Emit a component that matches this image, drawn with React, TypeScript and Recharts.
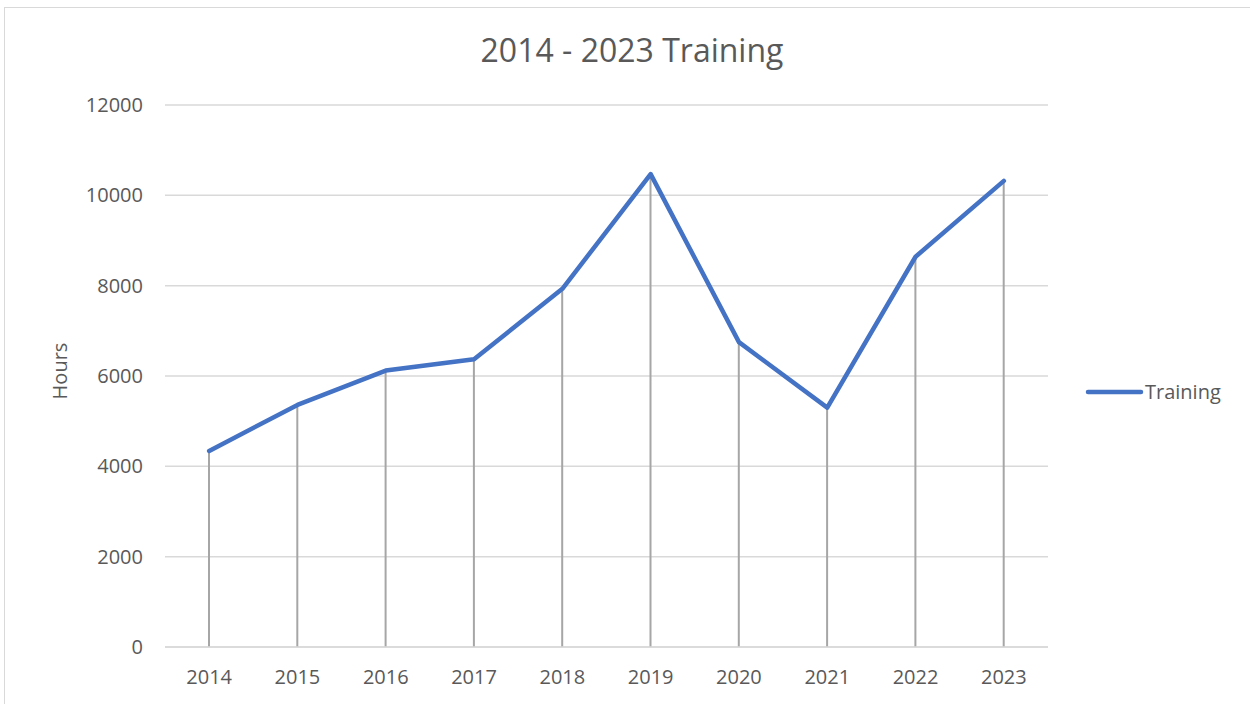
import React from 'react';
import { ComposedChart, Line, Bar, XAxis, YAxis, CartesianGrid, Legend } from 'recharts';

const years = ['2014', '2015', '2016', '2017', '2018', '2019', '2020', '2021', '2022', '2023'];
const trainingHours = [4340, 5360, 6120, 6370, 7930, 10470, 6750, 5300, 8640, 10320];
const yTicks = [0, 2000, 4000, 6000, 8000, 10000, 12000];
const seriesName = 'Training';
const chartTitle = '2014 - 2023 Training';
const yAxisTitle = 'Hours';

const data = years.map((y, i) => ({ year: y, hours: trainingHours[i] }));

const FONT = '"Open Sans", sans-serif';
const TEXT = '#595959';

const LegendContent = (props: any) => {
  const items = (props.payload || []).filter((p: any) => p.type !== 'none');
  return (
    <div>
      {items.map((p: any) => (
        <svg key={p.value} width={165} height={30} style={{ display: 'block' }}>
          <line x1={5} y1={15} x2={58} y2={15} stroke={p.color} strokeWidth={4.5} strokeLinecap="round" />
          <text x={62} y={22} fontFamily={FONT} fontSize={20} fill={TEXT}>{p.value}</text>
        </svg>
      ))}
    </div>
  );
};

export default function App() {
  return (
    <div style={{ position: 'absolute', left: 0, top: 0, width: 1250, height: 704, background: '#fff', overflow: 'hidden' }}>
      <div style={{ position: 'absolute', left: 4, top: 7, width: 1260, height: 720, border: '1px solid #d9d9d9' }} />
      <div style={{ position: 'absolute', left: 0, top: 0 }}>
        <ComposedChart width={1250} height={704} data={data} margin={{ top: 105, right: 202, bottom: 27, left: 0 }}>
          <CartesianGrid vertical={false} stroke="#d9d9d9" strokeWidth={1.5} />
          <XAxis
            dataKey="year"
            height={30}
            axisLine={{ stroke: '#d9d9d9', strokeWidth: 1.5 }}
            tickLine={false}
            tickSize={0}
            tickMargin={23}
            tick={{ fill: TEXT, fontSize: 20, fontFamily: FONT }}
            interval={0}
          />
          <YAxis
            width={165}
            domain={[0, 12000]}
            ticks={yTicks}
            axisLine={false}
            tickLine={false}
            tickSize={0}
            tickMargin={22}
            tick={{ fill: TEXT, fontSize: 20, fontFamily: FONT }}
          />
          <Bar dataKey="hours" barSize={2} fill="#a6a6a6" legendType="none" isAnimationActive={false} />
          <Line
            dataKey="hours"
            name={seriesName}
            stroke="#4472C4"
            strokeWidth={4.5}
            strokeLinejoin="round"
            strokeLinecap="round"
            dot={false}
            activeDot={false}
            isAnimationActive={false}
          />
          <Legend
            layout="horizontal"
            verticalAlign="middle"
            align="center"
            content={<LegendContent />}
            wrapperStyle={{ position: 'absolute', left: 1083, top: 377, width: 165, height: 30 }}
          />
        </ComposedChart>
      </div>
      <svg width={1250} height={704} style={{ position: 'absolute', left: 0, top: 0, pointerEvents: 'none' }}>
        <text x={632} y={62} textAnchor="middle" fontFamily={FONT} fontSize={32} fill={TEXT}>{chartTitle}</text>
        <text x={67} y={371} textAnchor="middle" fontFamily={FONT} fontSize={20} fill={TEXT} transform="rotate(-90 67 371)">{yAxisTitle}</text>
      </svg>
    </div>
  );
}
